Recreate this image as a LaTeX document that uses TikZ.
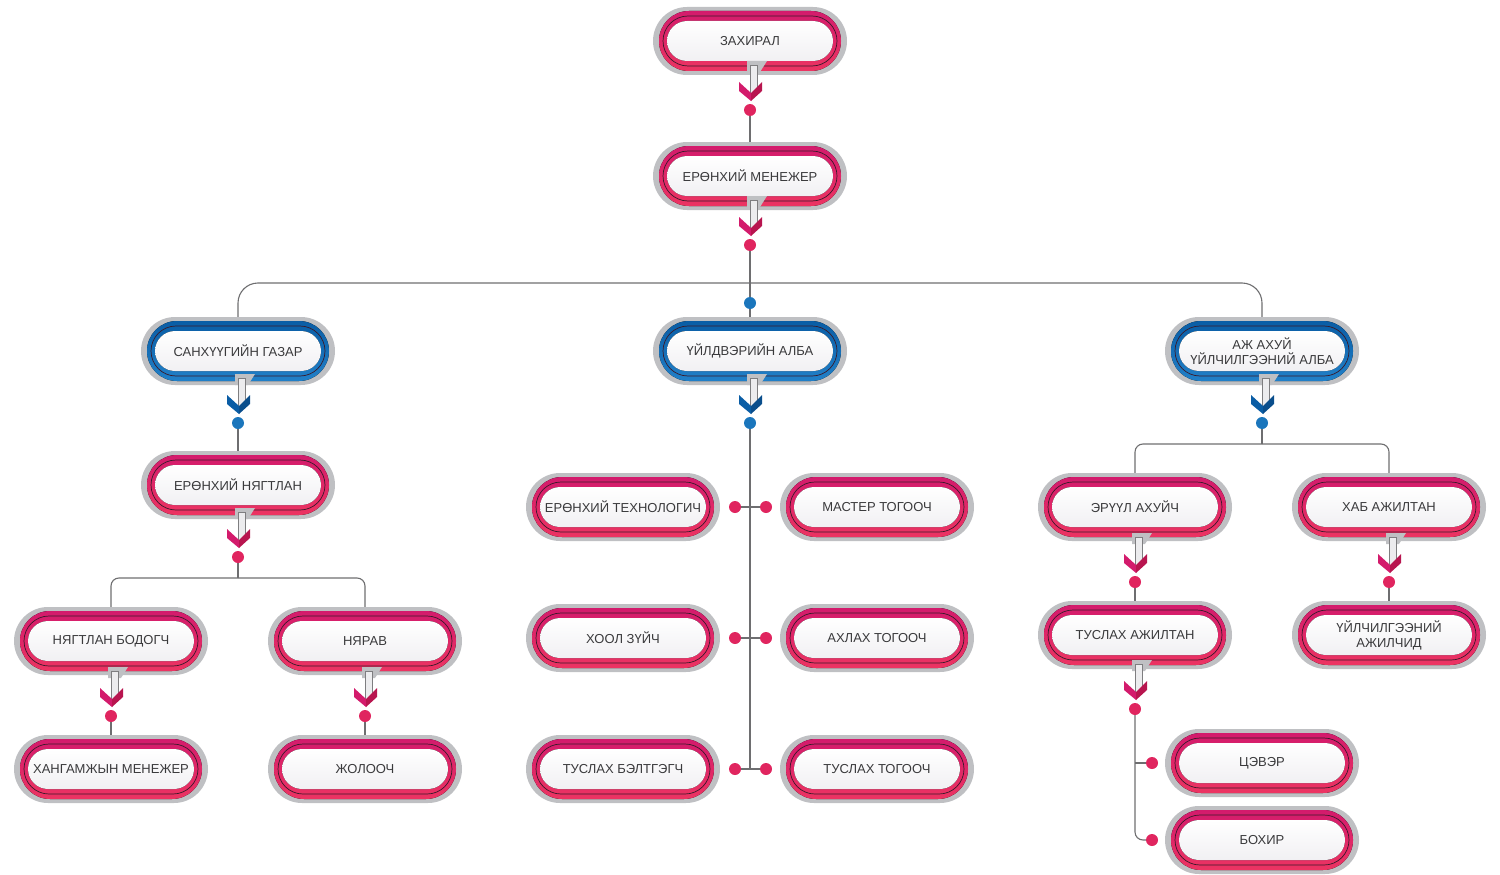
\documentclass[tikz,border=0pt]{standalone}
\usepackage{fontspec}
\setmainfont{Liberation Sans}
\definecolor{magtop}{HTML}{D31B6C}
\definecolor{magbot}{HTML}{EC3462}
\definecolor{magdark}{HTML}{B8154F}
\definecolor{magdot}{HTML}{E0255F}
\definecolor{blutop}{HTML}{0A5DA5}
\definecolor{blubot}{HTML}{2180C8}
\definecolor{bludark}{HTML}{0A4E8C}
\definecolor{bludot}{HTML}{1B76BC}
\definecolor{outerg}{HTML}{BFC0C3}
\definecolor{innerw}{HTML}{F1F0F3}
\definecolor{lineg}{HTML}{6E6E70}
\definecolor{txtc}{HTML}{3A3A3C}
\definecolor{darkline}{HTML}{3A1A2A}
\definecolor{shaftg}{HTML}{7E7E80}
\definecolor{shaftf}{HTML}{ECECEE}
\tikzset{
  txt/.style={font=\fontsize{13}{15}\selectfont, text=txtc, align=center,
    minimum width=196pt, minimum height=68pt, inner sep=0pt},
  dotmag/.style={circle, fill=magdot, minimum size=12pt, inner sep=0pt},
  dotblu/.style={circle, fill=bludot, minimum size=12pt, inner sep=0pt},
  conn/.style={draw=lineg, line width=1.1pt},
}
% name, x, y, text, colour prefix (mag/blu)
\newcommand\orgbox[5]{%
  \begin{scope}[shift={(#2,#3)}]
    \fill[outerg, rounded corners=34pt] (-97,-34) rectangle (97,34);
    \fill[top color=#5top, bottom color=#5bot, rounded corners=30pt] (-91,-30) rectangle (91,30);
    \draw[darkline, line width=0.7pt, rounded corners=25pt] (-87,-25) rectangle (87,25);
    \fill[top color=white, bottom color=innerw, rounded corners=20pt] (-83,-20) rectangle (83,20);
  \end{scope}
  \node[txt] (#1) at (#2,#3) {#4};
}
% dot name, x, y (box centre), colour prefix
\newcommand\orgdrop[4]{%
  \begin{scope}[shift={(#2,#3)}]
    \fill[outerg] (-3,20) -- (17,20) -- (10,31) -- (-3,31) -- cycle;
    \filldraw[fill=shaftf, draw=shaftg, line width=0.7pt] (0,24) rectangle (7,53);
    \fill[#4top] (-11,41) -- (1,52) -- (1,60) -- (-11,50) -- cycle;
    \fill[#4dark] (1,52) -- (12,41) -- (12,50) -- (1,60) -- cycle;
    \node[dot#4] (#1) at (0,69) {};
  \end{scope}
}
\begin{document}
\begin{tikzpicture}[x=1pt,y=-1pt]
\useasboundingbox (0,0) rectangle (1500,875);

% boxes
\orgbox{dir}{750}{41}{ЗАХИРАЛ}{mag}
\orgbox{gm}{750}{176}{ЕРӨНХИЙ МЕНЕЖЕР}{mag}
\orgbox{fin}{238}{351}{САНХҮҮГИЙН ГАЗАР}{blu}
\orgbox{prod}{750}{351}{ҮЙЛДВЭРИЙН АЛБА}{blu}
\orgbox{serv}{1262}{351}{АЖ АХУЙ\\ҮЙЛЧИЛГЭЭНИЙ АЛБА}{blu}
\orgbox{acc}{238}{485}{ЕРӨНХИЙ НЯГТЛАН}{mag}
\orgbox{book}{111}{641}{НЯГТЛАН БОДОГЧ}{mag}
\orgbox{stor}{365}{641}{НЯРАВ}{mag}
\orgbox{supp}{111}{769}{ХАНГАМЖЫН МЕНЕЖЕР}{mag}
\orgbox{drv}{365}{769}{ЖОЛООЧ}{mag}
\orgbox{tech}{623}{507}{ЕРӨНХИЙ ТЕХНОЛОГИЧ}{mag}
\orgbox{mast}{877}{507}{МАСТЕР ТОГООЧ}{mag}
\orgbox{diet}{623}{638}{ХООЛ ЗҮЙЧ}{mag}
\orgbox{head}{877}{638}{АХЛАХ ТОГООЧ}{mag}
\orgbox{prep}{623}{769}{ТУСЛАХ БЭЛТГЭГЧ}{mag}
\orgbox{cook}{877}{769}{ТУСЛАХ ТОГООЧ}{mag}
\orgbox{hyg}{1135}{507}{ЭРҮҮЛ АХУЙЧ}{mag}
\orgbox{hse}{1389}{507}{ХАБ АЖИЛТАН}{mag}
\orgbox{asst}{1135}{635}{ТУСЛАХ АЖИЛТАН}{mag}
\orgbox{work}{1389}{635}{ҮЙЛЧИЛГЭЭНИЙ\\АЖИЛЧИД}{mag}
\orgbox{clean}{1262}{763}{ЦЭВЭР}{mag}
\orgbox{dirty}{1262}{840}{БОХИР}{mag}

% drops
\orgdrop{ddir}{750}{41}{mag}
\orgdrop{dgm}{750}{176}{mag}
\orgdrop{dfin}{238}{354}{blu}
\orgdrop{dprod}{750}{354}{blu}
\orgdrop{dserv}{1262}{354}{blu}
\orgdrop{dacc}{238}{488}{mag}
\orgdrop{dbook}{111}{647}{mag}
\orgdrop{dstor}{365}{647}{mag}
\orgdrop{dhyg}{1135}{513}{mag}
\orgdrop{dhse}{1389}{513}{mag}
\orgdrop{dasst}{1135}{640}{mag}

% junction coordinates
\coordinate (j1) at (750,283);
\coordinate (j2) at (238,578);
\coordinate (j3) at (1262,444);
\coordinate (pend) at (750,769);
\coordinate (j4) at (1135,763);

% connectors
\draw[conn] (ddir) -- (gm.north);
\draw[conn] (dgm) -- (prod.north);
\draw[conn, rounded corners=20pt] (j1) -| (fin.north);
\draw[conn, rounded corners=20pt] (j1) -| (serv.north);
\node[dotblu] (bdot) at (750,303) {};

\draw[conn] (dfin) -- (acc.north);
\draw[conn] (dacc) -- (j2);
\draw[conn, rounded corners=8pt] (j2) -| (book.north);
\draw[conn, rounded corners=8pt] (j2) -| (stor.north);
\draw[conn] (dbook) -- (supp.north);
\draw[conn] (dstor) -- (drv.north);

\draw[conn] (dprod) -- (pend);
\node[dotmag] (pl1) at (735,507) {};
\node[dotmag] (pr1) at (766,507) {};
\node[dotmag] (pl2) at (735,638) {};
\node[dotmag] (pr2) at (766,638) {};
\node[dotmag] (pl3) at (735,769) {};
\node[dotmag] (pr3) at (766,769) {};
\draw[conn] (pl1) -- (pr1);
\draw[conn] (pl2) -- (pr2);
\draw[conn] (pl3) -- (pr3);

\draw[conn] (dserv) -- (j3);
\draw[conn, rounded corners=8pt] (j3) -| (hyg.north);
\draw[conn, rounded corners=8pt] (j3) -| (hse.north);
\draw[conn] (dhyg) -- (asst.north);
\draw[conn] (dhse) -- (work.north);

\node[dotmag] (sc) at (1152,763) {};
\node[dotmag] (sd) at (1152,840) {};
\draw[conn, rounded corners=8pt] (dasst) |- (sd);
\draw[conn] (j4) -- (sc);
\end{tikzpicture}
\end{document}
